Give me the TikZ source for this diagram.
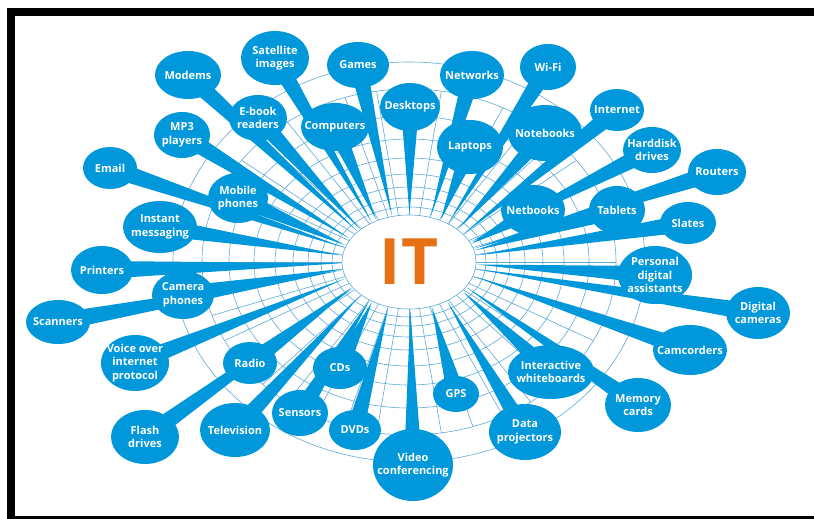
\documentclass[tikz,border=0pt]{standalone}
\usepackage{fontspec}
\setsansfont{Open Sans}
\usetikzlibrary{calc,shapes.geometric,backgrounds}
\definecolor{itblue}{RGB}{0,152,218}
\definecolor{itring}{RGB}{95,170,215}
\definecolor{itorange}{RGB}{232,112,20}
\tikzset{
  bub/.style={ellipse, fill=itblue, inner sep=0pt},
  lbl/.style={text=white, align=center, inner sep=0pt,
    font=\sffamily\bfseries\fontsize{11}{13.5}\selectfont},
  ring/.style={line width=0.6pt, color=itring},
  tail/.style={fill=itblue}
}
\def\bubble(#1,#2)[#3x#4](#5)#6{\node[bub, minimum width=#3pt, minimum height=#4pt] (#5) at (#1,#2) {};
  \node[lbl] (#5-t) at (#5) {#6};}

\begin{document}
\begin{tikzpicture}[x=1pt, y=-1pt]
		%%%%% START %%%%%
		\useasboundingbox (0,0) rectangle (814,519);
		
		% frame
		\fill[black] (7,8) rectangle (814,16);
		\fill[black] (7,8) rectangle (15,519);
		\fill[black] (7,516) rectangle (814,519);
		
		\node[text=itorange, inner sep=0pt, font=\sffamily\bfseries\fontsize{64}{64}\selectfont] (it) at (409,262) {IT};
		
		% top
		\bubble(275,58)[68x54](sat){Satellite\\images}
		\bubble(188,75)[66x48](mod){Modems}
		\bubble(358,65)[62x46](gam){Games}
		\bubble(472,75)[64x48](net){Networks}
		\bubble(548,67)[56x46](wif){Wi-Fi}
		\bubble(258,118)[58x46](ebk){E-book\\readers}
		\bubble(335,127)[68x48](cmp){Computers}
		\bubble(410,107)[60x48](dsk){Desktops}
		\bubble(545,133)[74x56](ntb){Notebooks}
		\bubble(617,110)[54x42](inet){Internet}
		\bubble(182,135)[56x46](mp3){MP3\\players}
		\bubble(470,147)[66x54](lap){Laptops}
		\bubble(652,150)[58x46](hdd){Harddisk\\drives}
		\bubble(717,172)[58x46](rout){Routers}
		
		% middle
		\bubble(110,168)[54x42](eml){Email}
		\bubble(238,198)[60x50](mob){Mobile\\phones}
		\bubble(533,210)[64x50](nbk){Netbooks}
		\bubble(617,210)[56x48](tab){Tablets}
		\bubble(688,223)[56x42](sla){Slates}
		\bubble(160,227)[74x52](im){Instant\\messaging}
		\bubble(655,275)[74x58](pda){Personal\\digital\\assistants}
		\bubble(102,270)[62x48](prn){Printers}
		\bubble(183,295)[62x48](cph){Camera\\phones}
		\bubble(58,322)[64x44](scn){Scanners}
		\bubble(758,313)[64x52](dcam){Digital\\cameras}
		\bubble(690,350)[74x50](camc){Camcorders}
		
		% bottom
		\bubble(135,363)[68x56](voip){Voice over\\internet\\protocol}
		\bubble(250,363)[54x42](rad){Radio}
		\bubble(340,368)[54x42](cds){CDs}
		\bubble(551,372)[86x54](iwb){Interactive\\whiteboards}
		\bubble(638,405)[66x54](mem){Memory\\cards}
		\bubble(300,413)[56x46](sen){Sensors}
		\bubble(456,394)[46x36](gps){GPS}
		\bubble(145,437)[68x54](fla){Flash\\drives}
		\bubble(235,430)[70x54](tv){Television}
		\bubble(355,430)[52x40](dvd){DVDs}
		\bubble(413,465)[80x72](vid){Video\\conferencing}
		\bubble(525,432)[72x56](dpj){Data\\projectors}
		
		\begin{scope}[on background layer]
		% web
		\foreach \rx/\ry in {67/47, 77/55, 88/64, 101/75, 116/88, 134/104, 155/123, 180/146, 207/173, 236/200}
			\draw[ring] (it.center) ellipse [x radius=\rx, y radius=\ry];
		\foreach \a in {0,9,...,351}
			\draw[ring] ($(it.center)+(\a:67pt and 47pt)$) -- ($(it.center)+(\a:207pt and 173pt)$);
		\fill[white] (it.center) ellipse [x radius=66, y radius=46];
		
		% tails
		\foreach \bb in {sat,mod,gam,net,wif,ebk,cmp,dsk,ntb,inet,mp3,lap,hdd,rout,eml,mob,nbk,tab,sla,im,pda,prn,cph,scn,dcam,camc,voip,rad,cds,iwb,mem,sen,gps,fla,tv,dvd,vid,dpj}
			\fill[tail] let \p1=($(\bb)-(it.center)$), \n1={atan2(\y1,\x1)} in
				($(\bb)!9pt!90:(it.center)$) -- ($(it.center)+(\n1:68pt and 48pt)$) -- ($(\bb)!9pt!-90:(it.center)$) -- cycle;
		\end{scope}
		
		%%%%% END %%%%%
\end{tikzpicture}
\end{document}
